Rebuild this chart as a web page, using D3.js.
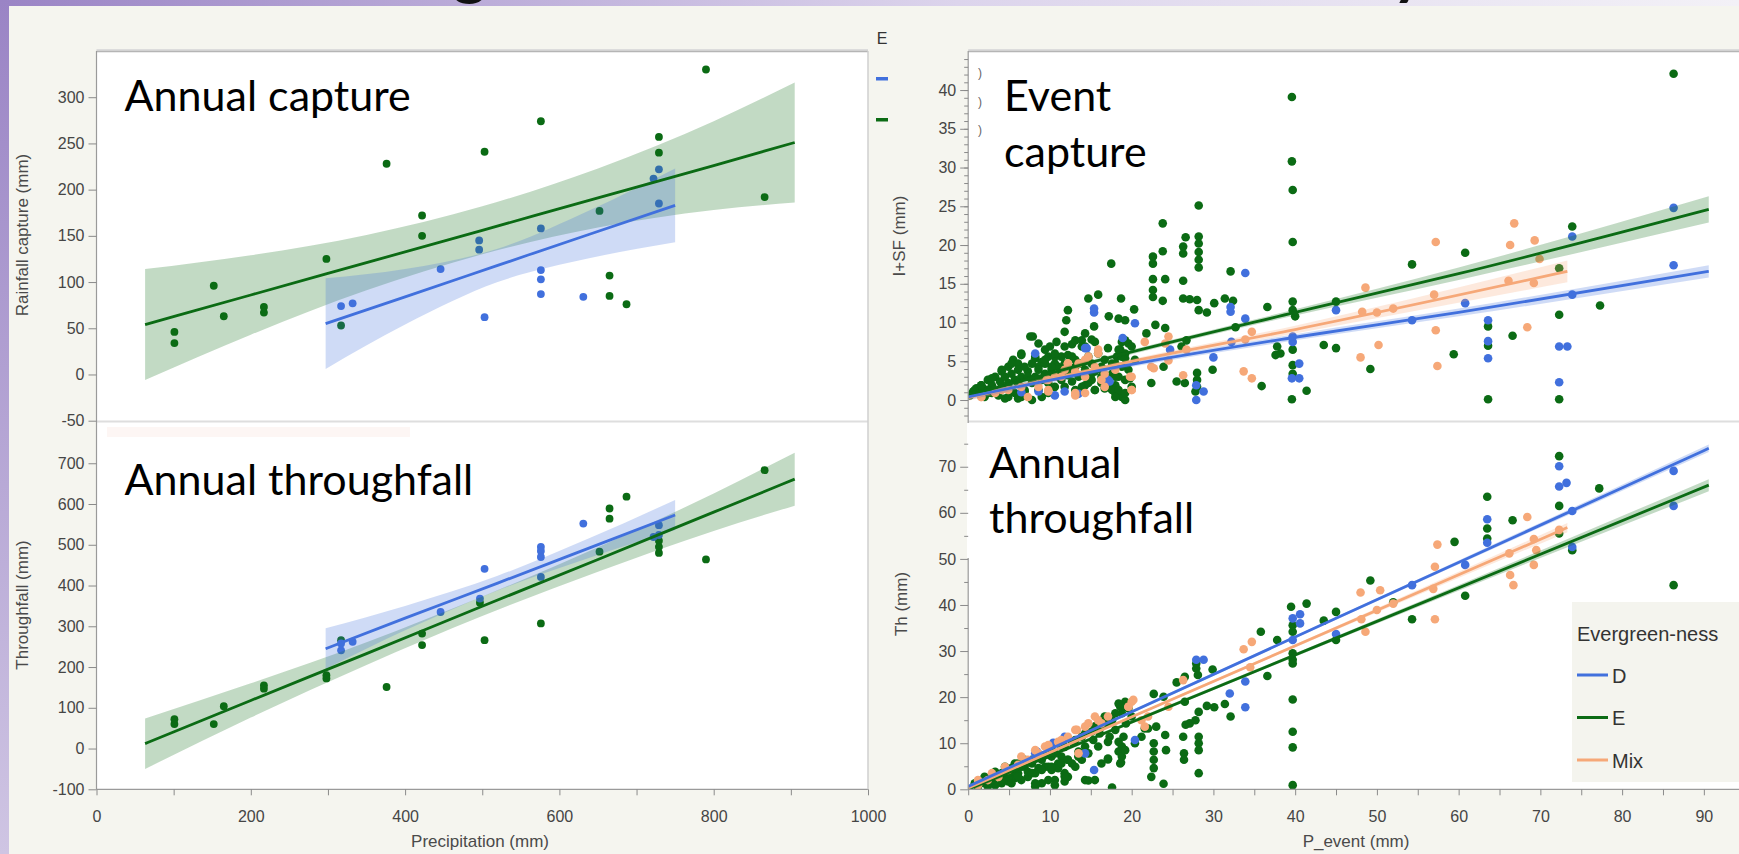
<!DOCTYPE html>
<html>
<head>
<meta charset="utf-8">
<script src="https://cdn.jsdelivr.net/npm/d3@7"></script>
<style>
  body { margin: 0; background: #f5f5ef; overflow: hidden; }
</style>
</head>
<body>
<script>
// ---- values ----
var precipTicks = [0, 200, 400, 600, 800, 1000];
var captureTicks = [-50, 0, 50, 100, 150, 200, 250, 300];
var throughTicks = [-100, 0, 100, 200, 300, 400, 500, 600, 700];
var isfTicks = [0, 5, 10, 15, 20, 25, 30, 35, 40];
var thTicks = [0, 10, 20, 30, 40, 50, 60, 70];
var pEventTicks = [0, 10, 20, 30, 40, 50, 60, 70, 80, 90];
var legendGroups = ["D", "E", "Mix"];

// annual panels: [precipitation, value]
var captureE = [[101,46],[101,34],[152,96],[165,63],[217,73],[217,67],[298,125],[317,53],[376,228],[422,172],[422,150],
  [503,241],[576,274],[652,177],[665,107],[665,85],[687,76],[729,257],[729,240],[790,330],[866,192]];
var captureD = [[317,74],[332,77],[446,114],[496,145],[496,135],[503,62],[576,158],[576,113],[576,103],[576,87],
  [631,84],[722,212],[729,222],[729,185]];
var throughE = [[101,60],[101,72],[152,60],[165,104],[217,155],[217,147],[298,180],[298,172],[317,266],[376,151],
  [422,282],[422,254],[497,358],[503,266],[576,307],[652,483],[665,589],[665,564],[687,618],[729,510],[729,495],
  [729,480],[790,464],[866,683]];
var throughD = [[317,258],[317,241],[332,262],[446,335],[497,368],[503,441],[576,495],[576,485],[576,470],[576,421],
  [631,552],[722,519],[729,548],[729,524]];

// fits: [x, lower, fit, upper]
var captureFitE = [[63,-6,54,114],[200,43,86,129],[350,91,121,151],[500,130,156,182],[650,159,191,223],[800,178,226,274],[905,186,251,316]];
var captureFitD = [[297,6,55,104],[400,54,84,114],[520,100,118,136],[640,126,152,178],[750,143,183,223]];
var throughFitE = [[63,-50,12,74],[200,76,118,160],[350,205,233,261],[500,325,349,373],[650,434,464,494],[800,534,580,626],[905,596,661,726]];
var throughFitD = [[297,195,245,295],[400,290,320,350],[520,388,406,424],[640,469,493,517],[750,536,573,610]];

// event panels: [P_event, value]
var eventCapE = [[39.7,27.1],[28.2,25.1],[23.8,22.8],[26.6,21.0],[28.2,21.1],[28.2,20.2],[28.2,19.1],[28.2,18.1],[28.2,17.1],
  [26.3,19.8],[26.3,18.9],[23.8,19.2],[39.7,20.4],[22.6,18.5],[22.6,17.6],[17.5,17.6],[22.6,15.6],[24.1,15.6],[26.3,15.4],
  [32.1,16.6],[54.3,17.5],[22.6,14.2],[22.6,13.3],[23.8,12.8],[26.3,13.1],[27.1,13.0],[28.0,12.9],[30.1,12.5],[31.4,13.1],
  [32.4,12.8],[14.7,13.1],[15.9,13.6],[18.7,13.1],[12.2,11.6],[12.0,10.3],[20.3,11.7],[17.2,10.8],[18.4,10.5],[19.2,10.3],
  [15.4,9.5],[22.9,9.7],[24.1,9.3],[28.2,11.6],[29.2,11.3],[36.6,12.0],[39.7,12.7],[39.7,11.6],[40.0,10.8],[45.0,12.7],
  [32.7,9.4],[7.9,8.2],[8.6,7.3],[11.8,8.8],[13.9,7.7],[15.1,7.8],[12.7,7.2],[21.8,8.6],[18.8,7.5],[19.6,7.3],[20.0,6.9],
  [18.6,6.5],[19.2,6.0],[18.2,5.6],[26.7,7.7],[26.1,6.9],[43.5,7.1],[45.0,6.7],[37.8,6.9],[38.2,6.0],[37.6,5.8],[39.7,6.5],
  [39.7,4.5],[39.7,3.4],[29.9,3.9],[23.9,4.3],[22.4,2.2],[25.5,2.4],[26.5,2.2],[28.0,3.5],[28.0,2.6],[28.0,1.7],[27.8,1.1],
  [35.9,1.8],[41.4,1.2],[39.6,0.1],[49.2,4.0],[39.6,39.1],[39.6,30.8],[86.3,42.1],
  [60.8,19.0],[73.9,22.4],[72.3,17.0],[77.3,12.2],[72.3,11.0],[63.6,9.5],[63.6,7.0],[66.6,8.3],[59.4,5.9],[63.6,0.1],[72.3,0.1],
  [6.5,5.8],[5.5,5.2],[6.1,4.7],[4.9,4.3],[4.1,3.7],[3.3,3.0],[2.4,2.6],[1.6,1.9],[1.0,1.5],[0.6,1.1],[0.2,0.6],
  [8.2,5.4],[9.0,4.9],[9.8,5.6],[10.6,4.7],[11.4,5.6],[12.2,5.8],[13.1,5.2],[10.2,3.9],[11.0,4.3],[9.4,3.4],[8.2,3.0],
  [7.3,3.7],[6.5,3.0],[5.7,2.6],[4.9,2.2],[4.1,1.7],[3.7,1.3],[2.9,0.9],[2.0,0.4],[5.3,1.3],[6.5,0.4],[7.8,0.0],[4.5,0.2],
  [8.6,1.3],[9.8,0.9],[11.8,1.7],[13.1,1.3],[14.3,1.9],[15.5,1.3],[16.7,1.5],[18.0,0.9],[18.8,0.4],[19.2,0.0],[18.0,1.9],
  [17.1,2.2],[16.3,3.0],[15.5,3.7],[14.3,3.9],[13.5,3.0],[12.2,3.2],[11.4,2.6],[10.6,1.7],[14.7,5.6],[15.9,6.0],[16.7,5.2],
  [18.0,4.7],[18.8,4.3],[19.6,3.9],[20.4,5.2],[14.3,6.9],[15.5,7.5],[17.1,6.7],[19.2,5.4],[19.8,2.8],[20.0,1.7],[10.8,7.5],
  [9.4,6.5],[10.0,6.9],
  [0.8,1.3],[1.8,1.5],[2.9,1.9],[3.9,2.4],[4.5,3.0],[5.3,3.4],[6.1,3.9],[6.9,4.3],[7.8,4.7],[8.6,4.3],[9.4,4.7],[10.6,5.6],
  [11.8,4.7],[13.1,4.3],[13.9,4.7],[15.1,4.7],[16.3,4.3],[17.6,3.4],[18.4,3.0],[19.2,2.6],[2.4,1.3],[3.7,0.6],[5.7,0.9],
  [6.9,1.3],[7.8,2.2],[9.0,2.6],[10.2,3.0],[11.4,3.4],[12.7,2.4],[13.9,1.7],[15.1,2.6],[16.3,2.2],[17.6,1.3],[18.4,1.3],[19.2,0.9],
  [7.6,8.2],[6.5,6.0],[5.3,4.7],[4.1,3.9],[2.9,2.8],[1.6,1.9],[8.2,5.6],[9.4,5.2],[10.6,6.0],[10.2,4.3],[8.6,3.9],[7.3,3.0],
  [6.1,2.2],[4.9,1.7],[3.7,1.1],[2.4,0.9],[11.8,6.9],[12.7,5.6],[13.5,4.7],[12.2,3.9],[11.0,3.0],[9.8,2.2],[9.0,0.4],[6.1,0.2],
  [4.9,0.4],[6.9,1.1],[15.1,3.4],[16.3,3.9],[17.6,4.7],[18.4,6.5],[19.2,7.7],[18.8,5.6],[18.0,3.0],[17.1,1.7],[18.0,0.4],
  [15.5,1.3],[14.7,2.2],[13.9,6.9],[13.1,7.7],[14.3,8.6]];
var eventCapD = [[33.9,16.4],[15.4,11.8],[15.4,11.3],[20.4,9.9],[32.1,12.0],[32.1,11.4],[33.9,10.5],[45.0,11.6],[54.3,10.3],
  [39.7,8.2],[39.7,7.5],[30.0,5.5],[24.7,6.5],[40.5,4.7],[39.6,2.8],[40.5,2.8],[27.9,1.9],[27.9,0.0],[28.8,1.1],[18.9,8.0],
  [14.5,6.7],[10.6,0.6],[11.8,1.1],[8.6,1.1],[17.1,2.6],[32.2,7.5],[6.5,1.0],[13.5,0.8],[14.3,6.7],[8.2,6.0],[17.3,2.4],
  [86.3,24.8],[73.9,21.1],[86.3,17.4],[73.9,13.6],[60.8,12.5],[63.6,10.3],[63.6,7.6],[63.6,5.4],[72.3,6.9],[73.3,6.9],[72.3,2.3]];
var eventCapMix = [[48.6,14.5],[48.2,11.4],[50.0,11.3],[52.0,11.8],[50.2,7.1],[48.0,5.5],[34.7,8.8],[33.9,7.8],[33.7,3.7],
  [34.7,2.8],[24.5,8.2],[24.1,7.3],[21.6,7.5],[22.7,4.1],[26.3,3.2],[26.7,6.5],[20.0,1.3],[19.8,3.0],[24.5,5.1],[16.7,1.7],
  [18.0,3.9],[16.7,3.4],[15.5,4.3],[14.3,3.0],[13.1,3.7],[11.8,3.9],[10.6,3.0],[9.6,2.6],[8.6,1.7],[6.5,1.7],[4.9,1.3],
  [3.3,0.9],[1.6,0.4],[15.9,6.5],[14.7,5.6],[13.5,4.7],[12.2,4.7],[14.3,0.9],[13.1,0.6],[9.8,1.3],
  [12.2,4.7],[14.3,5.2],[15.9,6.0],[9.8,2.6],[11.4,3.0],[13.1,0.9],[9.8,1.1],[7.3,0.4],[4.1,1.3],[1.6,0.4],[16.3,2.6],
  [20.0,3.0],[20.0,1.3],[22.4,4.3],
  [66.8,22.8],[57.2,20.4],[66.3,20.0],[69.3,20.6],[69.9,18.2],[57.0,13.6],[66.1,15.4],[69.2,15.1],[57.2,9.0],[68.4,9.4],[57.4,4.4]];
var eventCapFitE = [[0,0.2,0.6,1.0],[20,5.9,6.2,6.5],[40,10.9,11.3,11.7],[60,15.5,16.3,17.1],[90.6,22.9,24.6,26.3]];
var eventCapFitD = [[0,0.0,0.4,0.8],[20,4.3,4.6,4.9],[40,7.7,8.1,8.5],[60,10.8,11.3,11.8],[90.6,15.8,16.6,17.4]];
var eventCapFitMix = [[0,-0.1,0.3,0.7],[20,4.7,5.0,5.3],[40,8.6,9.1,9.6],[73.3,15.2,16.6,18.0]];

var eventThE = [[72.3,72.3],[72.3,61.5],[63.5,63.5],[63.5,56.6],[63.5,54.4],[66.6,58.4],[77.2,65.3],[59.5,53.7],[72.3,55.5],
  [73.9,51.9],[60.8,42.0],[86.3,44.3],[54.3,36.9],[52.0,40.6],
  [49.2,45.3],[41.4,40.3],[39.5,39.6],[43.5,36.6],[45.0,38.5],[35.8,34.2],[37.8,32.4],[39.7,35.6],[39.7,34.2],[39.7,29.5],
  [39.7,28.1],[39.7,27.3],[45.0,32.4],[36.6,24.6],[29.9,26.0],[27.9,27.3],[27.9,26.2],[28.1,24.8],[26.5,24.4],[25.5,23.2],
  [22.7,20.7],[23.9,20.1],[26.5,19.0],[29.2,18.1],[30.1,17.8],[31.4,18.5],[32.1,15.8],[28.2,16.8],[26.6,14.0],[27.1,14.3],
  [27.8,15.0],[26.3,11.4],[26.4,7.8],[26.4,6.4],[28.2,11.4],[28.2,10.0],[28.2,8.5],[28.2,3.5],[22.7,10.0],[22.7,8.2],
  [22.7,6.4],[22.7,4.6],[22.4,2.7],[24.1,11.8],[24.2,8.5],[21.6,13.2],[23.0,13.6],[23.9,1.2],[39.7,19.5],[39.7,12.5],
  [39.7,9.1],[39.7,0.9],[18.8,9.3],[18.4,8.2],[17.1,6.5],[18.7,5.8],[14.7,1.9],[17.6,0.4],[11.8,3.5],[11.8,1.7],[19.0,11.4],
  [19.3,14.3],[20.0,15.8],[18.6,17.9],[19.2,19.0],[18.4,18.6],
  [16.7,15.8],[17.1,14.3],[15.5,13.6],[16.1,12.1],[18.0,12.9],[17.3,11.4],[15.3,10.7],[14.3,9.3],[13.5,8.2],[12.2,6.4],
  [11.0,5.6],[10.2,4.2],[9.4,4.9],[8.2,3.5],[7.3,2.7],[6.5,2.0],[5.7,2.4],[4.9,1.7],[4.1,1.3],[3.3,0.9],[2.4,0.6],[13.1,4.9],
  [13.9,6.4],[12.2,2.7],[10.6,2.0],[9.0,1.3],[8.2,0.6],[11.4,7.1],[10.2,7.1],[9.0,6.4],[7.8,5.6],[6.9,4.9],[6.1,5.6],[5.3,4.6],
  [4.5,3.5],[3.7,2.7],[2.9,2.0],[2.0,1.3],[1.2,0.6],
  [1.6,1.7],[2.9,2.7],[4.1,3.5],[5.3,3.8],[6.5,4.9],[7.8,6.4],[9.0,7.4],[10.2,8.5],[11.4,9.3],[12.7,10.3],[13.9,11.4],
  [15.1,12.5],[16.3,13.6],[17.6,15.0],[18.8,16.5],[19.6,17.6],[4.9,2.7],[6.1,3.5],[7.3,3.8],[8.6,4.6],[9.8,4.9],[11.0,4.6],
  [12.7,5.6],[13.5,7.1],[14.7,7.8],[15.9,9.3],[17.1,10.3],[18.4,10.3],
  [0.8,1.3],[2.0,2.7],[3.3,3.8],[4.5,4.9],[5.7,5.6],[6.9,6.4],[8.2,6.7],[9.4,7.4],[10.6,7.8],[11.8,9.2],[13.1,10.7],
  [14.3,12.1],[15.5,13.6],[16.7,15.0],[18.0,16.5],[19.2,17.9],[6.1,2.8],[7.8,3.5],[9.0,4.2],[10.2,4.9],[11.4,5.6],[12.2,6.4],
  [13.5,7.1],[11.8,2.8],[14.3,2.0],[15.5,2.0],[16.3,5.6],[17.1,6.7],[18.8,7.1],[18.6,5.6],[19.2,8.5],[20.4,10.0],[21.2,11.4],
  [22.0,13.2],[4.9,3.5],[4.1,2.0],[9.8,2.0],[10.6,0.9],[5.3,1.3],[8.2,1.3]];
var eventThD = [[72.3,70.1],[72.3,65.7],[73.2,66.5],[86.3,69.1],[86.3,61.5],[73.9,60.4],[63.5,58.6],[63.5,53.5],[60.8,48.7],
  [54.3,44.3],[73.9,52.6],[27.9,28.1],[28.8,28.1],[32.0,20.8],[33.9,17.8],[33.9,23.4],[39.7,37.1],[40.6,38.0],[40.6,36.0],
  [39.7,32.4],[45.0,33.7],[20.4,10.7],[15.4,4.2],[11.8,11.4],[10.4,10.1],[8.2,7.8],[14.3,7.8],[8.4,8.2]];
var eventThMix = [[68.4,59.1],[57.4,53.1],[57.1,48.3],[56.9,43.5],[57.1,36.9],[69.2,54.3],[66.2,51.2],[69.5,51.9],[69.2,48.7],
  [66.3,46.5],[66.7,44.3],[72.3,56.3],[50.4,43.2],[33.7,30.4],[34.7,32.0],[48.0,42.7],[48.6,34.2],[48.1,36.9],[50.0,38.9],
  [52.0,40.3],[26.3,23.7],[34.5,26.5],[20.0,19.0],[19.6,17.9],[22.0,15.8],[21.2,15.0],[14.3,13.6],[13.3,12.9],[16.3,14.3],
  [15.5,15.8],[12.2,11.4],[11.0,10.3],[9.8,9.3],[8.6,7.8],[7.3,6.4],[6.1,5.3],[4.9,4.2],[3.7,2.7],[2.4,2.0],[1.2,0.9],
  [24.5,17.9],[21.6,13.6],
  [1.2,2.0],[2.9,3.5],[4.5,4.9],[6.5,7.1],[8.2,8.5],[9.8,9.6],[11.4,10.7],[13.1,12.9],[14.7,14.3],[15.9,15.0],[17.1,15.8],
  [19.6,17.9],[20.2,19.4],[13.5,7.8],[9.4,9.3]];
var eventThFitE = [[0,-0.5,0.0,0.5],[45,32.4,32.8,33.2],[90.6,64.7,66.0,67.3]];
var eventThFitD = [[0,0.2,0.6,1.0],[45,36.8,37.1,37.4],[90.6,73.2,74.0,74.8]];
var eventThFitMix = [[0,-0.1,0.3,0.7],[36.6,28.2,28.5,28.8],[73.3,55.8,56.8,57.8]];

// ---- drawing ----
var colD = "#4170dd", colE = "#0b6b14", colMix = "#f6a878";
var groupColor = {D: colD, E: colE, Mix: colMix};
var tickFont = "'Liberation Sans', Arial, sans-serif";

var svg = d3.select("body").append("svg")
  .attr("width", 1739).attr("height", 854)
  .style("font-family", tickFont);
var defs = svg.append("defs");

var side = defs.append("linearGradient").attr("id", "sideGrad")
  .attr("x1", 0).attr("y1", 0).attr("x2", 0).attr("y2", 1);
side.append("stop").attr("offset", "0%").attr("stop-color", "#9a84c5");
side.append("stop").attr("offset", "100%").attr("stop-color", "#cfc5e3");
var topG = defs.append("linearGradient").attr("id", "topGrad");
topG.append("stop").attr("offset", "0%").attr("stop-color", "#9a84c5");
topG.append("stop").attr("offset", "55%").attr("stop-color", "#dcd4ec");
topG.append("stop").attr("offset", "100%").attr("stop-color", "#f3f1f7");

svg.append("rect").attr("width", 1739).attr("height", 854).attr("fill", "#f5f5ef");
svg.append("rect").attr("width", 1739).attr("height", 6).attr("fill", "url(#topGrad)");
svg.append("rect").attr("width", 9).attr("height", 854).attr("fill", "url(#sideGrad)");
// tips of the slide title's descenders peeking in at the top edge
svg.append("text").attr("x", 453).attr("y", -7).text("g")
  .style("font", "bold 64px Lato, sans-serif").attr("fill", "#111");
svg.append("text").attr("x", 1392).attr("y", -7).text("y")
  .style("font", "bold 64px Lato, sans-serif").attr("fill", "#111");

var xPrecip = d3.scaleLinear().domain([0, 1000]).range([96.5, 868]);
var xEvent = d3.scaleLinear().domain([0, 94.3]).range([968.2, 1739]);
var yCapture = d3.scaleLinear().domain([-52.5, 350]).range([423, 51]);
var yThrough = d3.scaleLinear().domain([-100, 800]).range([789.3, 422.5]);
var yIsf = d3.scaleLinear().domain([-2.9, 45]).range([422.5, 51.3]);
var yTh = d3.scaleLinear().domain([0, 79.6]).range([789.3, 422.5]);

function drawPanel(id, xs, ys, top, bottom, pointSets, fitSets, r) {
  var x0 = xs.range()[0], x1 = xs.range()[1];
  defs.append("clipPath").attr("id", id).append("rect")
    .attr("x", x0).attr("y", top).attr("width", x1 - x0).attr("height", bottom - top);
  svg.append("rect").attr("x", x0).attr("y", top).attr("width", x1 - x0).attr("height", bottom - top)
    .attr("fill", "#fff");
  var g = svg.append("g").attr("clip-path", "url(#" + id + ")");
  pointSets.forEach(function(s) {
    g.append("g").selectAll("circle").data(s.data).enter().append("circle")
      .attr("cx", function(d) { return xs(d[0]); })
      .attr("cy", function(d) { return ys(d[1]); })
      .attr("r", r)
      .attr("fill", s.color);
  });
  fitSets.forEach(function(s) {
    g.append("path").datum(s.data)
      .attr("d", d3.area()
        .x(function(d) { return xs(d[0]); })
        .y0(function(d) { return ys(d[1]); })
        .y1(function(d) { return ys(d[3]); })
        .curve(d3.curveMonotoneX))
      .attr("fill", s.color).attr("opacity", 0.25);
  });
  fitSets.forEach(function(s) {
    g.append("path").datum(s.data)
      .attr("d", d3.line()
        .x(function(d) { return xs(d[0]); })
        .y(function(d) { return ys(d[2]); })
        .curve(d3.curveMonotoneX))
      .attr("fill", "none").attr("stroke", s.color).attr("stroke-width", 2.8);
  });
  return g;
}

drawPanel("pCap", xPrecip, yCapture, 51, 421,
  [{data: captureE, color: colE}, {data: captureD, color: colD}],
  [{data: captureFitE, color: colE}, {data: captureFitD, color: colD}], 3.9);
drawPanel("pThr", xPrecip, yThrough, 422, 789.3,
  [{data: throughE, color: colE}, {data: throughD, color: colD}],
  [{data: throughFitE, color: colE}, {data: throughFitD, color: colD}], 3.9);
drawPanel("pEvCap", xEvent, yIsf, 51, 421,
  [{data: eventCapE, color: colE}, {data: eventCapD, color: colD}, {data: eventCapMix, color: colMix}],
  [{data: eventCapFitE, color: colE}, {data: eventCapFitMix, color: colMix}, {data: eventCapFitD, color: colD}], 4.3);
drawPanel("pEvTh", xEvent, yTh, 422, 789.3,
  [{data: eventThE, color: colE}, {data: eventThD, color: colD}, {data: eventThMix, color: colMix}],
  [{data: eventThFitE, color: colE}, {data: eventThFitMix, color: colMix}, {data: eventThFitD, color: colD}], 4.3);

// faint strip at top of the lower left panel
svg.append("rect").attr("x", 107).attr("y", 427).attr("width", 303).attr("height", 10).attr("fill", "#fdf6f4");

// frames and dividers
[[96.5, 868], [968.2, 1739]].forEach(function(p) {
  svg.append("line").attr("x1", p[0]).attr("x2", p[1]).attr("y1", 50).attr("y2", 50)
    .attr("stroke", "#dcdcdc").attr("stroke-width", 2);
  svg.append("line").attr("x1", p[0]).attr("x2", p[1]).attr("y1", 51.5).attr("y2", 51.5)
    .attr("stroke", "#b5b5b5").attr("stroke-width", 1.5);
  svg.append("line").attr("x1", p[0]).attr("x2", p[1]).attr("y1", 421.5).attr("y2", 421.5)
    .attr("stroke", "#dedede").attr("stroke-width", 2);
  svg.append("line").attr("x1", p[0]).attr("x2", p[0]).attr("y1", 51).attr("y2", 789.3)
    .attr("stroke", "#9a9a9a").attr("stroke-width", 1.2);
  svg.append("line").attr("x1", p[0]).attr("x2", p[1]).attr("y1", 789.3).attr("y2", 789.3)
    .attr("stroke", "#9a9a9a").attr("stroke-width", 1.2);
});
svg.append("line").attr("x1", 868).attr("x2", 868).attr("y1", 51).attr("y2", 789.3)
  .attr("stroke", "#cfcfcf").attr("stroke-width", 1.5);

// text box on the lower right panel hides the axis line behind it
svg.append("rect").attr("x", 967).attr("y", 423).attr("width", 240).attr("height", 135).attr("fill", "#fff");

function styleAxis(g, size) {
  g.select(".domain").remove();
  g.selectAll(".tick line").attr("stroke", "#8a8a8a");
  g.selectAll(".tick text").attr("fill", "#454545").style("font-size", size + "px").style("font-family", tickFont);
}

function yAxis(scale, ticks, minor, x) {
  if (minor) {
    var gm = svg.append("g").attr("transform", "translate(" + x + ",0)")
      .call(d3.axisLeft(scale).tickValues(minor).tickSize(4).tickFormat(""));
    styleAxis(gm, 16);
  }
  var g = svg.append("g").attr("transform", "translate(" + x + ",0)")
    .call(d3.axisLeft(scale).tickValues(ticks).tickSize(8).tickPadding(4)
      .tickFormat(function(d) { return String(d); }));
  styleAxis(g, 16);
}

function xAxis(scale, ticks, all, y) {
  var g = svg.append("g").attr("transform", "translate(0," + y + ")")
    .call(d3.axisBottom(scale).tickValues(all).tickSize(6).tickPadding(15)
      .tickFormat(function(d) { return ticks.indexOf(d) >= 0 ? String(d) : ""; }));
  styleAxis(g, 16);
}

yAxis(yCapture, captureTicks, null, 96.5);
yAxis(yThrough, throughTicks, null, 96.5);
yAxis(yIsf, isfTicks, d3.range(-2, 45, 1), 968.2);
yAxis(yTh, thTicks, d3.range(5, 80, 10), 968.2);
xAxis(xPrecip, precipTicks, d3.range(0, 1001, 100), 789.3);
xAxis(xEvent, pEventTicks, d3.range(0, 94, 5), 789.3);

function axisTitle(text, x, y, rot) {
  svg.append("text")
    .attr("transform", "translate(" + x + "," + y + ")" + (rot ? " rotate(-90)" : ""))
    .attr("text-anchor", "middle")
    .attr("fill", "#4a4a4a")
    .style("font-size", "17px")
    .text(text);
}
axisTitle("Rainfall capture (mm)", 28, 235, true);
axisTitle("Throughfall (mm)", 28, 605, true);
axisTitle("I+SF (mm)", 905, 236, true);
axisTitle("Th (mm)", 907, 604, true);
axisTitle("Precipitation (mm)", 480, 847, false);
axisTitle("P_event (mm)", 1356, 847, false);

// clipped legend remnant between the panels
svg.append("text").attr("x", 882).attr("y", 44).attr("text-anchor", "middle")
  .attr("fill", "#333").style("font-size", "16px").text("E");
svg.append("rect").attr("x", 876).attr("y", 77).attr("width", 12).attr("height", 3.5).attr("fill", colD);
svg.append("rect").attr("x", 876).attr("y", 118).attr("width", 12).attr("height", 3.5).attr("fill", colE);
[73, 102, 130].forEach(function(y) {
  svg.append("text").attr("x", 978).attr("y", y + 4).attr("fill", "#666")
    .style("font-size", "12px").text(")");
});

// panel captions
var captionFont = "Lato, 'Open Sans', sans-serif";
function caption(lines, x, y, lh) {
  lines.forEach(function(t, i) {
    svg.append("text").attr("x", x).attr("y", y + i * lh)
      .attr("fill", "#000").style("font-family", captionFont).style("font-size", "43px")
      .text(t);
  });
}
caption(["Annual capture"], 124.6, 110.7, 0);
caption(["Annual throughfall"], 124.6, 494.5, 0);
caption(["Event", "capture"], 1004, 110.7, 56);
caption(["Annual", "throughfall"], 989, 478, 55);

// legend
var leg = svg.append("g");
leg.append("rect").attr("x", 1572).attr("y", 602).attr("width", 167).attr("height", 180).attr("fill", "#f4f4ee");
leg.append("text").attr("x", 1577).attr("y", 641).attr("fill", "#333")
  .style("font-size", "20px").text("Evergreen-ness");
legendGroups.forEach(function(k, i) {
  var y = 675 + i * 42.5;
  leg.append("line").attr("x1", 1577).attr("x2", 1608).attr("y1", y).attr("y2", y)
    .attr("stroke", groupColor[k]).attr("stroke-width", 3);
  leg.append("text").attr("x", 1612).attr("y", y + 7.5).attr("fill", "#333")
    .style("font-size", "20px").text(k);
});
</script>
</body>
</html>
